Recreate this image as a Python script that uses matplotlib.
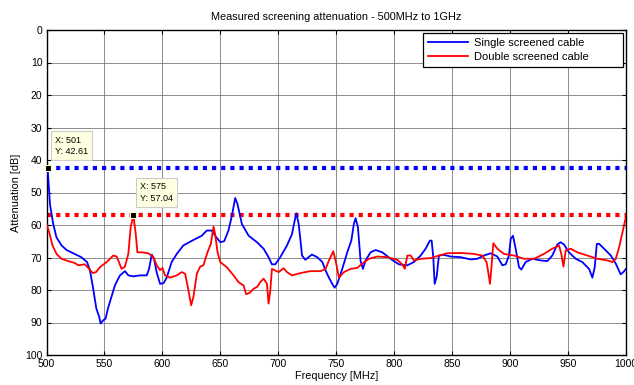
import matplotlib
matplotlib.use("Agg")
import matplotlib.pyplot as plt

plt.rcParams['font.family'] = ['Liberation Sans', 'DejaVu Sans']

# ---- data ----
freq_single = [500, 501, 503, 505.8, 508.6, 513, 517.3, 523, 530, 535, 537.5, 540, 543, 545.5, 546.7,
               549, 551, 553, 556, 559, 563.4, 567.7, 570.6, 575, 580.7, 586.5, 588.5, 590.8, 592.8,
               595, 598, 601, 603.7, 608, 612.4, 618, 626.8, 634, 638.3, 642.7, 645.5, 649.9, 653.3,
               657, 660, 662.8, 664.8, 668.6, 674.4, 681.6, 687.3, 691.6, 694.5, 697.4, 701.7, 707.5,
               711.8, 713.8, 715.6, 717.6, 720.5, 723.3, 729, 733.6, 738, 740.8, 743.7, 746.5, 748.6,
               750.9, 755.2, 759.5, 763, 765.2, 766.7, 768.7, 771, 773, 775.3, 779.6, 784, 789.7,
               796.9, 804, 811.3, 817, 822.8, 827.1, 830.8, 832.3, 833.7, 834.9, 836.6, 838.6, 842.9,
               848.7, 857.3, 866, 871.7, 877.4, 883.2, 889, 893.3, 896.2, 899, 900.5, 902.5, 904.8,
               907.7, 909.7, 913.4, 919.2, 926.4, 932.1, 936.4, 940.7, 943.6, 946.5, 950.8, 956.6,
               962.3, 968.1, 971, 973, 974.8, 976.8, 981.1, 986.9, 991.2, 995.4, 997.7, 1000]
att_single = [44.5, 42.61, 53.6, 59.7, 63.8, 66.3, 67.7, 68.7, 69.9, 71.4, 74, 79, 85.7, 88.3, 90.3,
              89.3, 88.8, 85.7, 82.1, 78.6, 75.5, 74.2, 75.5, 75.8, 75.5, 75.5, 73.5, 69.1, 70.4,
              74.5, 78.1, 77.9, 76.2, 71.4, 68.9, 66.3, 64.6, 63.3, 61.7, 61.7, 63.3, 65.3, 65.0,
              61.7, 57.1, 51.7, 53.6, 59.7, 63.3, 65.3, 67.3, 69.9, 72.1, 72.1, 69.9, 66.3,
              62.8, 59.2, 56.4, 59.7, 69.4, 70.7, 69.1, 69.9, 71.4, 74.0, 76.2, 78.1, 79.3,
              78.1, 73.5, 68.4, 64.8, 59.7, 57.9, 60.7, 71.1, 73.5, 70.9, 68.4, 67.7, 68.4,
              70.4, 72.1, 72.4, 71.4, 69.4, 67.3, 64.8, 64.8, 69.9, 78.1, 76.0, 69.4, 69.2,
              69.7, 69.9, 70.6, 70.4, 69.4, 68.7, 69.7, 72.4, 72.1, 69.4, 64.3, 63.3, 67.3,
              73.0, 73.7, 71.4, 70.4, 70.9, 71.1, 69.4, 66.0, 65.3, 66.0, 68.4, 70.4,
              71.4, 73.5, 76.2, 73.0, 65.8, 65.8, 67.3, 69.4, 71.9, 75.2, 74.5, 73.5]

freq_double = [500, 502.3, 505.2, 508.6, 513, 518.7, 524.5, 527.4, 533.1, 536.9, 539.8, 542.7, 546.1,
               551.9, 557.6, 560.5, 562.5, 564.8, 567.7, 570.6, 572.6, 575, 577, 578.4, 582.1, 587.9,
               592.2, 595.1, 598, 600, 602.3, 606.6, 612.4, 616.7, 619.6, 622.5, 624.8, 626.8, 629.7,
               632.6, 635.4, 638.9, 641.8, 644.1, 645.5, 647.6, 649.9, 655.6, 661.4, 665.7, 670,
               672.3, 675.2, 678.7, 681.6, 684.4, 687.3, 690.2, 691.6, 693.1, 694.5, 697.4, 700.3,
               704.6, 707.5, 711.8, 719, 727.6, 736.5, 740.8, 743.7, 747.4, 749.4, 752.3, 756.6,
               762.4, 768.1, 772.4, 778.2, 785.4, 794, 802.6, 806.9, 809.2, 811.3, 814.2, 817,
               822.8, 831.4, 838.6, 845.8, 857.3, 868.8, 876, 879.7, 881.8, 882.6, 883.8, 885.5,
               889, 894.7, 903.4, 912, 920.6, 929.2, 936.4, 942.2, 944.2, 946, 948, 952.3, 958,
               966.7, 975.4, 984, 988.3, 991.2, 994.1, 997, 1000]
att_double = [59.7, 62.2, 66.3, 68.9, 70.4, 71.1, 71.7, 72.4, 72.1, 73.5, 74.8, 74.5, 73.0,
              71.4, 69.4, 69.7, 71.4, 73.5, 72.8, 68.9, 60.7, 57.04, 62.8, 68.4, 68.4, 68.7,
              69.9, 72.4, 73.9, 73.2, 75.5, 76.2, 75.5, 74.5, 75.0, 80.1, 84.7, 82.1, 75.0,
              72.8, 72.4, 68.4, 65.8, 60.5, 62.8, 68.4, 71.4, 73.0, 75.5, 77.6, 78.6,
              81.3, 80.9, 79.6, 79.1, 77.6, 76.5, 78.1, 84.2, 80.1, 73.5, 74.0, 74.5,
              73.3, 74.5, 75.5, 74.8, 74.2, 74.2, 73.5, 70.9, 68.1, 70.9, 76.2, 74.5,
              73.5, 73.2, 71.9, 70.4, 69.7, 69.9, 70.7, 72.1, 73.5, 69.4, 69.4, 70.9,
              70.4, 70.2, 69.4, 68.7, 68.6, 68.9, 69.4, 71.4, 76.0, 78.1, 73.5, 65.6,
              67.3, 68.9, 69.4, 70.4, 70.4, 68.9, 67.3, 66.3, 68.9, 72.8, 67.8, 67.3, 68.4,
              69.4, 70.4, 70.9, 71.4, 70.4, 66.8, 62.2, 57.4]

tip_single = (501, 42.61)
tip_double = (575, 57.04)

x_ticks = list(range(500, 1001, 50))
y_ticks = list(range(0, 101, 10))

# ---- figure ----
fig = plt.figure(figsize=(6.34, 3.85), dpi=100)
ax = fig.add_axes([46.5 / 634, 1 - 355 / 385, (626 - 46.5) / 634, (355 - 30) / 385])

ax.plot(freq_single, att_single, color='#0000ff', lw=1.3, label='Single screened cable', zorder=3)
ax.plot(freq_double, att_double, color='#ff0000', lw=1.3, label='Double screened cable', zorder=3)

ax.axhline(tip_single[1], color='#0000ff', lw=3, ls=(0, (1, 1.2)), zorder=2)
ax.axhline(tip_double[1], color='#ff0000', lw=3, ls=(0, (1, 1.2)), zorder=2)

for (tx, ty) in (tip_single, tip_double):
    ax.plot([tx], [ty], marker='s', ms=5, color='black', mec='#ffffcc', mew=0.8, zorder=5, clip_on=False)
    ax.annotate(f"X: {tx}\nY: {ty}", xy=(tx, ty), xytext=(7, 12.5), textcoords='offset pixels',
                ha='left', va='bottom', fontsize=6.5, linespacing=1.35,
                bbox=dict(boxstyle='square,pad=0.45', fc='#ffffe1', ec='#cccccc', lw=0.8), zorder=6)

ax.set_xlim(500, 1000)
ax.set_ylim(100, 0)
ax.set_xticks(x_ticks)
ax.set_yticks(y_ticks)
ax.tick_params(direction='in', labelsize=7.5, length=3, width=0.8, top=True, right=True, pad=3)
ax.grid(True, color='#707070', lw=0.7, alpha=0.8)
for s in ax.spines.values():
    s.set_linewidth(1.0)
    s.set_color('black')

ax.set_title('Measured screening attenuation - 500MHz to 1GHz', fontsize=7.8, pad=7)
ax.set_xlabel('Frequency [MHz]', fontsize=7.8, labelpad=1)
ax.set_ylabel('Attenuation [dB]', fontsize=7.8, labelpad=3)

leg = ax.legend(loc='upper left', bbox_to_anchor=(0.6497, 0.883, 0.345, 0.108), mode='expand',
                fontsize=8, frameon=True, fancybox=False, edgecolor='black',
                framealpha=1, borderaxespad=0.0, handlelength=3.6, borderpad=0.45, labelspacing=0.35,
                handletextpad=0.5)
leg.get_frame().set_linewidth(0.9)

fig.savefig('out.png', dpi=100)
